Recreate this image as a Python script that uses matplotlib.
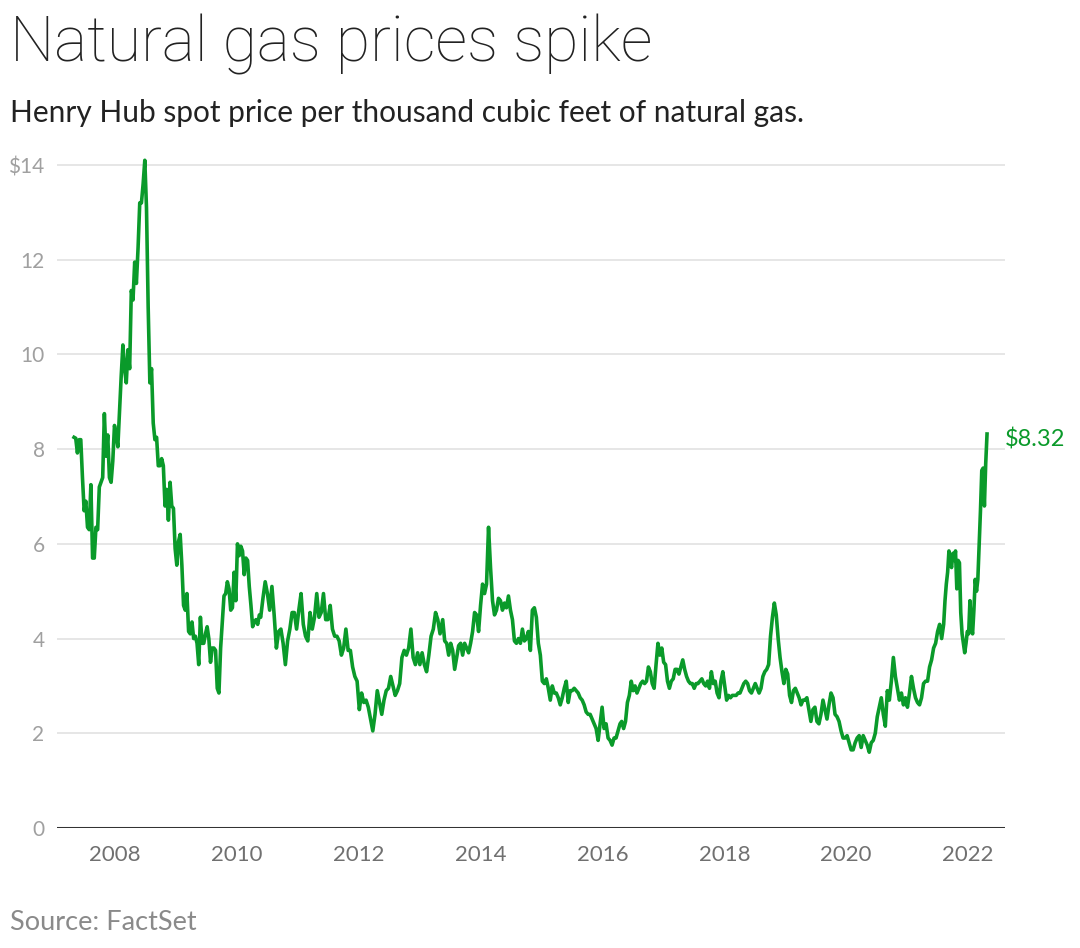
import numpy as np
import pandas as pd
import matplotlib
matplotlib.use("Agg")
import matplotlib.pyplot as plt
from datetime import datetime

# Henry Hub spot price, $ per thousand cubic feet
# each block: (first date, last date, values sampled roughly evenly in between)
seg1_span = ("2007-04-30", "2010-05-15")
seg1 = [8.25, 8.23, 7.92, 8.2, 8.2, 7.4, 6.7, 6.9, 6.35, 6.3, 7.25, 5.7, 5.7, 6.35, 6.3,
        7.2, 7.3, 7.4, 8.75, 7.85, 8.3, 7.4, 7.3, 7.75, 8.5, 8.3, 8.05, 8.8, 9.55, 10.2,
        9.7, 9.4, 10.1, 9.7, 11.35, 11.15, 11.95, 11.5, 12.25, 13.2, 13.2, 13.6, 14.1, 13.1,
        11.0, 9.4, 9.7, 8.55, 8.2, 8.25, 7.65, 7.65, 7.8, 7.65, 6.8, 7.15, 6.5, 7.3, 6.8,
        6.75, 5.9, 5.55, 6.05, 6.2, 5.55, 4.7, 4.6, 4.95, 4.15, 4.1, 4.35, 4.0, 4.05, 3.9,
        3.45, 4.45, 3.9, 3.9, 4.1, 4.25, 4.0, 3.5, 3.8, 3.8, 3.75, 2.95, 2.85, 3.8, 4.35,
        4.9, 4.95, 5.2, 5.05, 4.6, 4.65, 5.4, 4.8, 6.0, 5.75, 5.95, 5.85, 5.35, 5.7, 5.65,
        5.1, 4.7, 4.25, 4.35, 4.4, 4.3, 4.5]

seg2_span = ("2010-05-23", "2013-05-02")
seg2 = [4.45, 4.85, 5.2, 4.95, 4.6, 5.1, 4.5, 3.8, 4.15, 4.2, 3.9, 3.45, 3.95, 4.2, 4.55,
        4.55, 4.2, 4.6, 4.95, 4.3, 4.05, 3.95, 4.55, 4.2, 4.45, 4.95, 4.45, 4.55, 4.95, 4.4,
        4.4, 4.7, 4.2, 4.05, 4.05, 3.95, 3.65, 3.8, 4.2, 3.75, 3.75, 3.4, 3.2, 3.1, 2.5,
        2.85, 2.65, 2.7, 2.55, 2.3, 2.05, 2.4, 2.9, 2.65, 2.4, 2.7, 2.9, 2.95, 3.2, 3.0,
        2.8, 2.9, 3.05, 3.6, 3.75, 3.65, 3.8, 4.2, 3.6, 3.45, 3.7, 3.45, 3.7, 3.45, 3.3,
        3.65, 4.05, 4.2, 4.55, 4.4, 4.1]

seg3_span = ("2013-05-18", "2016-04-15")
seg3 = [4.4, 3.95, 3.9, 3.65, 3.9, 3.75, 3.35, 3.6, 3.85, 3.9, 3.65, 3.9, 3.8, 3.7, 3.9,
        4.15, 4.55, 4.5, 4.15, 4.7, 5.15, 4.95, 5.15, 6.35, 5.5, 4.8, 4.5, 4.6, 4.85, 4.8,
        4.6, 4.75, 4.65, 4.9, 4.6, 4.4, 3.95, 3.9, 4.0, 3.9, 4.2, 3.95, 4.0, 4.15, 3.75,
        4.6, 4.65, 4.45, 3.9, 3.65, 3.1, 3.05, 3.15, 2.95, 2.7, 3.0, 2.85, 2.85, 2.75, 2.6,
        2.75, 2.95, 3.1, 2.65, 2.9, 2.9, 2.95, 2.9, 2.85, 2.75, 2.7, 2.6, 2.45, 2.4, 2.4,
        2.3, 2.2, 2.1, 1.85, 2.2, 2.55, 2.1, 2.2, 1.9, 1.85, 1.75, 1.9, 1.9, 2.05, 2.2]

seg4_span = ("2016-04-25", "2019-04-28")
seg4 = [2.25, 2.1, 2.25, 2.65, 2.8, 3.1, 2.9, 3.0, 2.85, 2.95, 3.05, 3.1, 3.05, 3.1, 3.4,
        3.3, 3.05, 2.95, 3.45, 3.9, 3.65, 3.8, 3.5, 3.45, 3.1, 2.95, 3.1, 3.15, 3.35, 3.35,
        3.25, 3.4, 3.55, 3.35, 3.2, 3.1, 3.05, 3.05, 2.95, 3.05, 3.05, 3.1, 3.15, 3.05, 3.0,
        3.1, 2.95, 3.3, 3.05, 3.1, 2.85, 2.75, 3.1, 3.3, 3.0, 2.7, 2.8, 2.75, 2.8, 2.8, 2.8,
        2.85, 2.85, 2.95, 3.05, 3.1, 3.05, 2.9, 2.85, 2.95, 3.05, 2.95, 2.85, 2.95, 3.2,
        3.3, 3.35, 3.45, 4.05, 4.45, 4.75, 4.5, 4.0, 3.6, 3.3, 3.05, 3.35, 3.25, 2.8, 2.65,
        2.9, 2.95, 2.85, 2.75, 2.6, 2.7, 2.7]

seg5_span = ("2019-05-10", "2021-08-07")
seg5 = [2.75, 2.5, 2.25, 2.5, 2.55, 2.25, 2.2, 2.4, 2.7, 2.5, 2.3, 2.6, 2.85, 2.75, 2.4,
        2.35, 2.25, 2.05, 1.9, 1.9, 1.95, 1.8, 1.65, 1.65, 1.8, 1.9, 1.95, 1.7, 1.95, 1.85,
        1.75, 1.6, 1.8, 1.85, 2.0, 2.35, 2.55, 2.75, 2.4, 2.15, 2.9, 2.7, 3.1, 3.6, 3.2,
        2.95, 2.7, 2.85, 2.6, 2.75, 2.55, 2.85, 3.2, 2.95, 2.75, 2.65, 2.6, 2.75, 3.05, 3.1,
        3.1, 3.4, 3.55, 3.8, 3.9, 4.15, 4.3, 4.0, 4.3]

seg6_span = ("2021-08-15", "2022-04-24")
seg6 = [4.8, 5.15, 5.4, 5.85, 5.65, 5.5, 5.8, 5.65, 5.85, 5.05, 5.65, 5.6, 4.55, 4.1, 3.9,
        3.7, 3.9, 4.15, 4.1, 4.8, 4.25, 4.1, 4.6, 5.25, 5.0, 5.25, 5.95, 6.7, 7.55, 7.6,
        6.8, 7.7, 8.32]

tick_years = [2008, 2010, 2012, 2014, 2016, 2018, 2020, 2022]
y_ticks = [0, 2, 4, 6, 8, 10, 12, 14]
y_labels = ["0", "2", "4", "6", "8", "10", "12", "$14"]

dates = []
prices = []
for span, vals in [(seg1_span, seg1), (seg2_span, seg2), (seg3_span, seg3),
                   (seg4_span, seg4), (seg5_span, seg5), (seg6_span, seg6)]:
    dates.extend(pd.date_range(span[0], span[1], periods=len(vals)))
    prices.extend(vals)

green = '#0a9a2a'
plt.rcParams['font.family'] = ['Lato', 'DejaVu Sans']

fig = plt.figure(figsize=(10.8, 9.48), dpi=100)
ax = fig.add_axes([0.0528, 0.1266, 0.8778, 0.7143])

ax.plot(dates, prices, color=green, lw=2.6, solid_joinstyle='round', clip_on=False, zorder=3)
ax.axhline(0, color='#333333', lw=2.2, zorder=2)

ax.set_ylim(0, 14.3)
ax.set_xlim(datetime(2007, 1, 18), datetime(2022, 8, 10))
ax.set_yticks(y_ticks, y_labels)
ax.set_xticks([datetime(y, 1, 1) for y in tick_years], [str(y) for y in tick_years])
ax.yaxis.grid(True, color='#e4e4e4', lw=1.3)
ax.set_axisbelow(True)
for s in ax.spines.values():
    s.set_visible(False)
ax.tick_params(axis='y', length=0, pad=9, labelcolor='#a0a0a0', labelsize=15)
ax.tick_params(axis='x', length=0, pad=12, labelcolor='#707070', labelsize=16)

ax.annotate("$%.2f" % prices[-1], xy=(dates[-1], prices[-1]), xytext=(13, -4),
            textcoords='offset points', color=green, fontsize=17, va='center', ha='left')

fig.text(0.0093, 0.9346, "Natural gas prices spike", fontsize=45, fontweight='light',
         family=['Roboto', 'DejaVu Sans'], color='#222222', va='baseline')
fig.text(0.0093, 0.8713, "Henry Hub spot price per thousand cubic feet of natural gas.",
         fontsize=21.5, color='#222222', va='baseline')
fig.text(0.0093, 0.019, "Source: FactSet", fontsize=19.5, color='#8a8a8a', va='baseline')

fig.savefig("out.png", dpi=100)
